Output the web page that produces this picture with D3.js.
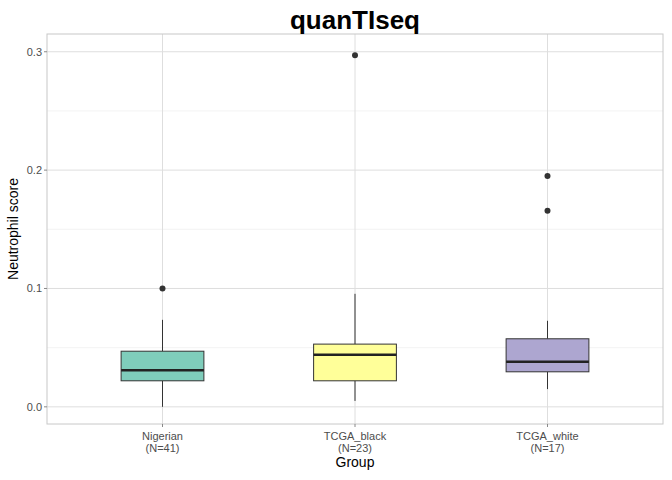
<!DOCTYPE html><html><head><script src="https://d3js.org/d3.v7.min.js"></script>
<style>body{margin:0;background:#fff}text{font-family:"Liberation Sans",Arial,sans-serif}</style></head><body>
<svg id="c" width="672" height="480"></svg>
<script>
const categories=["Nigerian","TCGA_black","TCGA_white"];
const counts=[41,23,17];
const q1=[0.022,0.022,0.0296];
const medians=[0.031,0.044,0.038];
const q3=[0.047,0.053,0.0575];
const whiskLow=[0.0,0.005,0.015];
const whiskHigh=[0.0735,0.0955,0.0727];
const outliers=[[0.1],[0.297],[0.195,0.1657]];
const colors=["#7FCDBB","#FFFF99","#ADA6D0"];
const yTicks=[0,0.1,0.2,0.3];
const yMinor=[0.05,0.15,0.25];

const svg=d3.select("#c");
const L=47,R=663,T=34,B=424;
const x=d3.scalePoint().domain(categories).range([L,R]).padding(0.6);
const y=d3.scaleLinear().domain([-0.0145,0.315]).range([B,T]);
const g=svg.append("g");
yMinor.forEach(v=>g.append("line").attr("x1",L).attr("x2",R).attr("y1",y(v)).attr("y2",y(v)).attr("stroke","#ebebeb").attr("stroke-width",0.6));
yTicks.forEach(v=>g.append("line").attr("x1",L).attr("x2",R).attr("y1",y(v)).attr("y2",y(v)).attr("stroke","#dedede").attr("stroke-width",1));
categories.forEach(c=>{const cx=x(c);g.append("line").attr("x1",cx).attr("x2",cx).attr("y1",T).attr("y2",B).attr("stroke","#dedede");});
const bw=x.step()*0.43;
categories.forEach((c,i)=>{const cx=x(c);
 g.append("line").attr("x1",cx).attr("x2",cx).attr("y1",y(whiskLow[i])).attr("y2",y(q1[i])).attr("stroke","#333");
 g.append("line").attr("x1",cx).attr("x2",cx).attr("y1",y(q3[i])).attr("y2",y(whiskHigh[i])).attr("stroke","#333");
 g.append("rect").attr("x",cx-bw/2).attr("width",bw).attr("y",y(q3[i])).attr("height",y(q1[i])-y(q3[i])).attr("fill",colors[i]).attr("stroke","#333");
 g.append("line").attr("x1",cx-bw/2).attr("x2",cx+bw/2).attr("y1",y(medians[i])).attr("y2",y(medians[i])).attr("stroke","#222").attr("stroke-width",2.5);
 outliers[i].forEach(o=>g.append("circle").attr("cx",cx).attr("cy",y(o)).attr("r",3).attr("fill","#333"));
 const t=g.append("text").attr("x",cx).attr("y",B+16).attr("text-anchor","middle").attr("font-size",11).attr("fill","#4d4d4d");
 t.append("tspan").attr("x",cx).text(c);t.append("tspan").attr("x",cx).attr("dy",12).text("(N="+counts[i]+")");
});
g.append("rect").attr("x",L).attr("y",T).attr("width",R-L).attr("height",B-T).attr("fill","none").attr("stroke","#c8c8c8");
yTicks.forEach(v=>{g.append("line").attr("x1",L-3).attr("x2",L).attr("y1",y(v)).attr("y2",y(v)).attr("stroke","#888");
 g.append("text").attr("x",L-5).attr("y",y(v)+4).attr("text-anchor","end").attr("font-size",11).attr("fill","#4d4d4d").text(d3.format(".1f")(v));});
categories.forEach(c=>{const cx=x(c);g.append("line").attr("x1",cx).attr("x2",cx).attr("y1",B).attr("y2",B+3).attr("stroke","#888");});
svg.append("text").attr("x",(L+R)/2).attr("y",467).attr("text-anchor","middle").attr("font-size",14).text("Group");
svg.append("text").attr("transform","translate(18,"+(T+B)/2+") rotate(-90)").attr("text-anchor","middle").attr("font-size",14).text("Neutrophil score");
svg.append("text").attr("x",(L+R)/2).attr("y",29).attr("text-anchor","middle").attr("font-size",26).attr("font-weight","bold").text("quanTIseq");
</script></body></html>
